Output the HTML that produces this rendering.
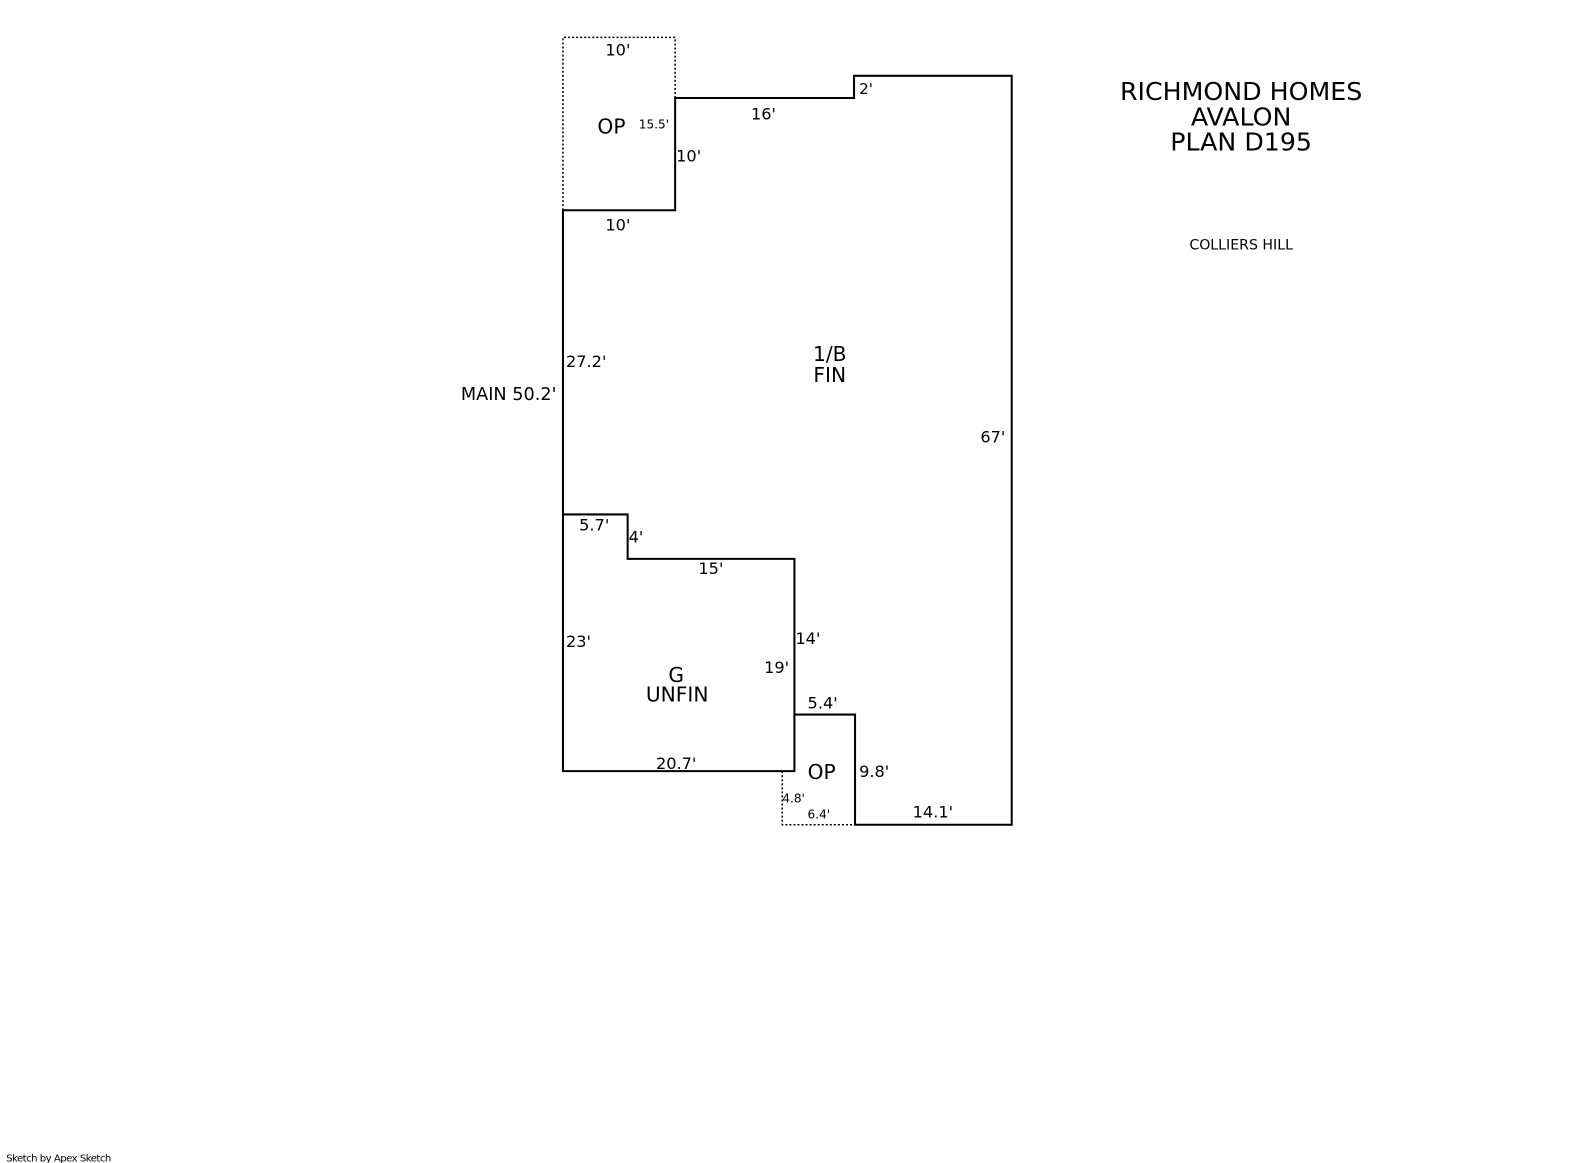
<!DOCTYPE html>
<html><head><meta charset="utf-8"><style>
html,body{margin:0;padding:0;background:#fff;}
svg{display:block;}
text{font-family:"DejaVu Sans","Liberation Sans",sans-serif;fill:#000;}
</style></head><body>
<svg width="1585" height="1163" viewBox="0 0 1585 1163" xmlns="http://www.w3.org/2000/svg">
<g transform="scale(1.0107)">
<g fill="none" stroke="#000" stroke-width="2">
<polyline points="557,509 557,208 668,208 668,97 845,97 845,75 1001,75 1001,816 846,816 846,707 786,707 786,553 621,553 621,509 557,509"/>
<polyline points="557,509 557,763 786,763 786,707"/>
</g>
<g fill="none" stroke="#000" stroke-width="1.5" stroke-dasharray="2,2">
<polyline points="557,208 557,37 668,37 668,97"/>
<polyline points="774,763 774,816 846,816"/>
</g>
<g font-size="16">
<text x="599" y="55">10'</text>
<text x="743" y="118">16'</text>
<text x="850" y="93" font-size="15">2'</text>
<text x="669" y="160">10'</text>
<text x="599" y="228">10'</text>
<text x="560" y="363">27.2'</text>
<text x="456" y="396" font-size="17.5">MAIN 50.2'</text>
<text x="970" y="438">67'</text>
<text x="573" y="525">5.7'</text>
<text x="622" y="537">4'</text>
<text x="691" y="568">15'</text>
<text x="560" y="640">23'</text>
<text x="787" y="637">14'</text>
<text x="756" y="666">19'</text>
<text x="799" y="701">5.4'</text>
<text x="649" y="761">20.7'</text>
<text x="850" y="769">9.8'</text>
<text x="903" y="809">14.1'</text>
</g>
<g font-size="12">
<text x="632" y="127">15.5'</text>
<text x="774" y="794">4.8'</text>
<text x="799" y="810">6.4'</text>
</g>
<g font-size="20" text-anchor="middle">
<text x="605" y="132">OP</text>
<text x="813" y="771">OP</text>
<text x="821" y="357">1/B</text>
<text x="821" y="378">FIN</text>
<text x="669" y="675">G</text>
<text x="670" y="694">UNFIN</text>
</g>
<g font-size="25" text-anchor="middle">
<text x="1228" y="99">RICHMOND HOMES</text>
<text x="1228" y="124">AVALON</text>
<text x="1228" y="149">PLAN D195</text>
</g>
<text x="1228" y="247" font-size="14" text-anchor="middle">COLLIERS HILL</text>
<text x="6" y="1149" font-size="10" letter-spacing="-0.5">Sketch by Apex Sketch</text>
</g>
</svg>
</body></html>
